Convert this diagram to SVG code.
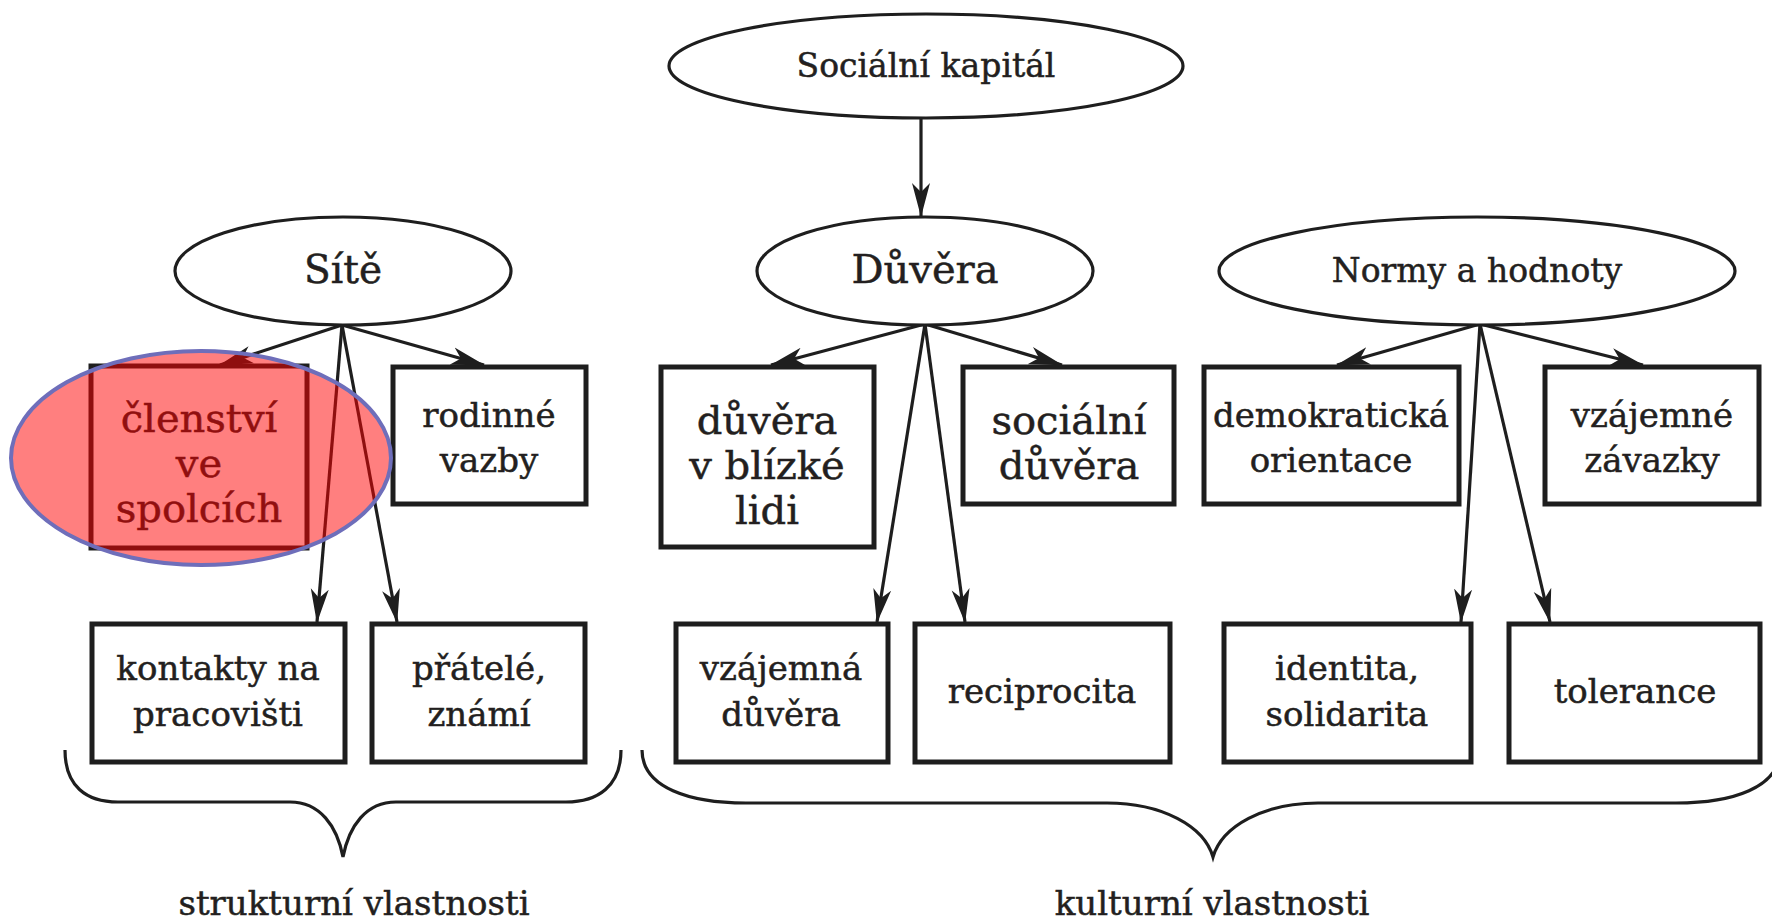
<svg xmlns="http://www.w3.org/2000/svg" width="1772" height="921" viewBox="0 0 1772 921">
<style>
.box{fill:#fff;stroke:#1e1e1e;stroke-width:5}
.ell{fill:#fff;stroke:#1e1e1e;stroke-width:3.2}
.conn{stroke:#1e1e1e;stroke-width:3.2;fill:none;marker-end:url(#ah)}
.brace{stroke:#1e1e1e;stroke-width:3.2;fill:none}
text{font-family:"DejaVu Serif","Liberation Serif",serif;fill:#231f20;stroke:#231f20;stroke-width:0.5;text-anchor:middle}
.s{font-size:34px}
.l{font-size:40px}
</style>
<defs>
<marker id="ah" markerUnits="userSpaceOnUse" markerWidth="36" markerHeight="20" refX="33" refY="10" orient="auto">
<path d="M0,1 L34,10 L0,19 L9,10 z" fill="#1e1e1e"/>
</marker>
</defs>
<rect width="1772" height="921" fill="#fff"/>

<g id="connectors">
<line class="conn" x1="921" y1="118" x2="921" y2="216"/>
<line class="conn" x1="342" y1="325" x2="220" y2="365"/>
<line class="conn" x1="342" y1="325" x2="484" y2="365"/>
<line class="conn" x1="342" y1="325" x2="317" y2="622"/>
<line class="conn" x1="342" y1="325" x2="397" y2="622"/>
<line class="conn" x1="925" y1="324" x2="771" y2="365"/>
<line class="conn" x1="925" y1="324" x2="1062" y2="365"/>
<line class="conn" x1="925" y1="324" x2="877" y2="622"/>
<line class="conn" x1="925" y1="324" x2="965" y2="622"/>
<line class="conn" x1="1480" y1="324" x2="1337" y2="365"/>
<line class="conn" x1="1480" y1="324" x2="1643" y2="365"/>
<line class="conn" x1="1480" y1="324" x2="1461" y2="622"/>
<line class="conn" x1="1480" y1="324" x2="1550" y2="622"/>
</g>

<g id="n_socialni_kapital">
<ellipse class="ell" cx="926" cy="66" rx="257" ry="52"/>
<text x="926" y="77" style="font-size:33px">Sociální kapitál</text>
</g>
<g id="n_site">
<ellipse class="ell" cx="343" cy="271" rx="168" ry="54"/>
<text x="343" y="283" style="font-size:39px">Sítě</text>
</g>
<g id="n_duvera">
<ellipse class="ell" cx="925" cy="271" rx="168" ry="54"/>
<text x="925" y="283" style="font-size:40px">Důvěra</text>
</g>
<g id="n_normy">
<ellipse class="ell" cx="1477" cy="271" rx="258" ry="54"/>
<text x="1477" y="282" style="font-size:33px">Normy a hodnoty</text>
</g>

<g id="n_clenstvi">
<rect class="box" x="91" y="366" width="216" height="182"/>
<text class="l" x="199" y="432">členství</text>
<text class="l" x="199" y="477">ve</text>
<text class="l" x="199" y="522">spolcích</text>
</g>
<g id="n_rodinne">
<rect class="box" x="393" y="367" width="193" height="137"/>
<text class="s" x="489" y="427">rodinné</text>
<text class="s" x="489" y="472">vazby</text>
</g>
<g id="n_duvera_blizke">
<rect class="box" x="661" y="367" width="213" height="180"/>
<text class="l" x="767" y="434">důvěra</text>
<text class="l" x="767" y="479">v blízké</text>
<text class="l" x="767" y="524">lidi</text>
</g>
<g id="n_socialni_duvera">
<rect class="box" x="963" y="367" width="211" height="137"/>
<text class="l" x="1069" y="434">sociální</text>
<text class="l" x="1069" y="479">důvěra</text>
</g>
<g id="n_demokraticka">
<rect class="box" x="1204" y="367" width="255" height="137"/>
<text class="s" x="1331" y="427">demokratická</text>
<text class="s" x="1331" y="472">orientace</text>
</g>
<g id="n_vzajemne_zavazky">
<rect class="box" x="1545" y="367" width="214" height="137"/>
<text class="s" x="1652" y="427">vzájemné</text>
<text class="s" x="1652" y="472">závazky</text>
</g>

<g id="n_kontakty">
<rect class="box" x="92" y="624" width="253" height="138"/>
<text class="s" x="218" y="680">kontakty na</text>
<text class="s" x="218" y="726">pracovišti</text>
</g>
<g id="n_pratele">
<rect class="box" x="372" y="624" width="213" height="138"/>
<text class="s" x="479" y="680">přátelé,</text>
<text class="s" x="479" y="726">známí</text>
</g>
<g id="n_vzajemna_duvera">
<rect class="box" x="676" y="624" width="212" height="138"/>
<text class="s" x="781" y="680">vzájemná</text>
<text class="s" x="781" y="726">důvěra</text>
</g>
<g id="n_reciprocita">
<rect class="box" x="915" y="624" width="255" height="138"/>
<text class="s" x="1042" y="703">reciprocita</text>
</g>
<g id="n_identita">
<rect class="box" x="1224" y="624" width="247" height="138"/>
<text class="s" x="1347" y="680">identita,</text>
<text class="s" x="1347" y="726">solidarita</text>
</g>
<g id="n_tolerance">
<rect class="box" x="1509" y="624" width="251" height="138"/>
<text class="s" x="1635" y="703">tolerance</text>
</g>

<g id="braces">
<path class="brace" d="M65,750 C65,786 86,802 118,802 L290,802 C320,802 337,826 343,857 C349,826 366,802 396,802 L566,802 C598,802 621,786 621,750"/>
<path class="brace" d="M642,750 C642,788 690,803 746,803 L1107,803 C1162,803 1204,826 1213,857 C1222,826 1264,803 1318,803 L1676,803 C1732,803 1780,788 1780,750"/>
<text x="354" y="915" style="font-size:34px">strukturní vlastnosti</text>
<text x="1212" y="915" style="font-size:34px">kulturní vlastnosti</text>
</g>

<g id="highlight">
<ellipse cx="201" cy="458" rx="190" ry="107" fill="#ff0000" fill-opacity="0.5" stroke="#6e6eba" stroke-width="4"/>
</g>
</svg>
